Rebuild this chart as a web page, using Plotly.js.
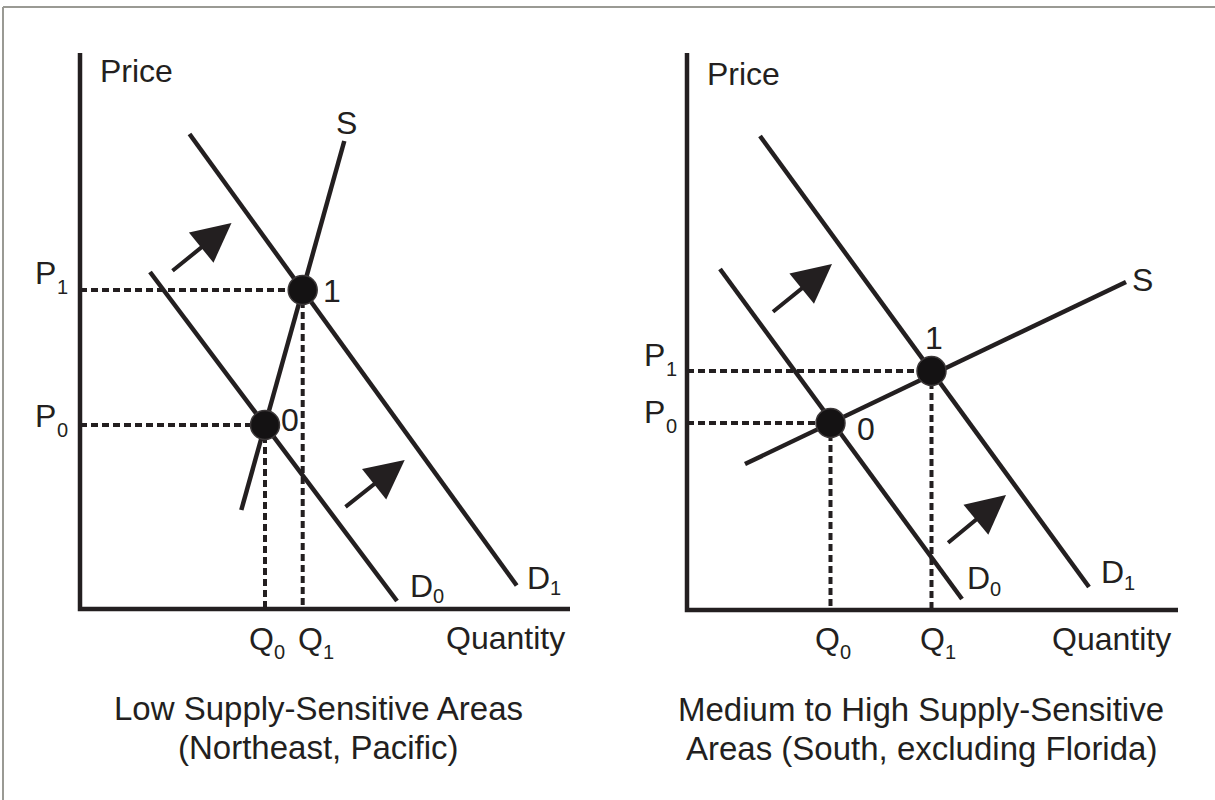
<!DOCTYPE html>
<html>
<head>
<meta charset="utf-8">
<script src="https://cdn.plot.ly/plotly-3.0.1.min.js"></script>
<style>
html,body{margin:0;padding:0;background:#fff;}
#chart{width:1215px;height:800px;}
</style>
</head>
<body>
<div id="chart"></div>
<script>
// ---------- Left panel: Low supply-sensitive areas (quantity, price units) ----------
const leftAxisQ = [0, 0, 490];
const leftAxisP = [556, 0, 0];
const leftSupplyQ = [161.3, 264.3];
const leftSupplyP = [99, 468];
const leftD0Q = [70, 317];
const leftD0P = [337, 8];
const leftD1Q = [109.5, 436.7];
const leftD1P = [475, 23.5];
const leftEqQ = [185, 222.7];   // points 0, 1
const leftEqP = [184, 319];
const leftArrowTailQ = [91, 264];
const leftArrowTailP = [337, 101];
const leftArrowTipQ = [151.5, 324.7];
const leftArrowTipP = [386, 149];

// ---------- Right panel: Medium to high supply-sensitive areas ----------
const rightAxisQ = [0, 0, 491];
const rightAxisP = [557, 0, 0];
const rightSupplyQ = [58, 439];
const rightSupplyP = [146, 328];
const rightD0Q = [33, 275];
const rightD0P = [341, 11];
const rightD1Q = [73, 402];
const rightD1P = [474, 23];
const rightEqQ = [143.5, 244.5];
const rightEqP = [187, 239];
const rightArrowTailQ = [84.5, 259.6];
const rightArrowTailP = [297, 66];
const rightArrowTipQ = [145, 319];
const rightArrowTipP = [346, 115];

// ---------- Text ----------
const pointLabels = ['0', '1'];
const subscripts = ['0', '1'];
const priceLetter = 'P';
const qtyLetter = 'Q';
const demandLetter = 'D';
const supplyLetter = 'S';
const axisLabels = ['Price', 'Quantity'];
const leftTitle = ['Low Supply-Sensitive Areas', '(Northeast, Pacific)'];
const rightTitle = ['Medium to High Supply-Sensitive', 'Areas (South, excluding Florida)'];

const INK = '#231f20';
const FONT = 'Liberation Sans, Arial, Helvetica, sans-serif';
const LABEL_SIZE = 32;
const SUB_SIZE = 20;
const TITLE_SIZE = 33;
const LETTER_W = {P: 21.5, Q: 24.5, D: 22.5};

function line(q, p, ax, extra) {
  return Object.assign({
    x: q, y: p, xaxis: ax[0], yaxis: ax[1], mode: 'lines', type: 'scatter',
    hoverinfo: 'skip', showlegend: false,
    line: {color: INK, width: 4.5}
  }, extra || {});
}
function dotted(q, p, ax) {
  return line(q, p, ax, {line: {color: INK, width: 4, dash: '7px,4px'}});
}

function panel(ax, d) {
  const tr = [];
  for (let i = 0; i < 2; i++) {
    tr.push(dotted([0, d.eqQ[i]], [d.eqP[i], d.eqP[i]], ax));
    tr.push(dotted([d.eqQ[i], d.eqQ[i]], [d.eqP[i], 0], ax));
  }
  tr.push(line(d.axisQ, d.axisP, ax));
  tr.push(line(d.d0Q, d.d0P, ax));
  tr.push(line(d.d1Q, d.d1P, ax));
  tr.push(line(d.sQ, d.sP, ax));
  tr.push({
    x: d.eqQ, y: d.eqP, xaxis: ax[0], yaxis: ax[1], type: 'scatter', mode: 'markers',
    hoverinfo: 'skip', showlegend: false,
    marker: {size: 29, color: '#141213', line: {color: '#3b3738', width: 1.5}}
  });
  return tr;
}

const leftData = {axisQ: leftAxisQ, axisP: leftAxisP, sQ: leftSupplyQ, sP: leftSupplyP,
  d0Q: leftD0Q, d0P: leftD0P, d1Q: leftD1Q, d1P: leftD1P, eqQ: leftEqQ, eqP: leftEqP};
const rightData = {axisQ: rightAxisQ, axisP: rightAxisP, sQ: rightSupplyQ, sP: rightSupplyP,
  d0Q: rightD0Q, d0P: rightD0P, d1Q: rightD1Q, d1P: rightD1P, eqQ: rightEqQ, eqP: rightEqP};

const traces = panel(['x', 'y'], leftData).concat(panel(['x2', 'y2'], rightData));

function txt(xr, yr, x, y, text, size, xanchor, yanchor) {
  return {xref: xr, yref: yr, x: x, y: y, text: text, showarrow: false,
    xanchor: xanchor || 'center', yanchor: yanchor || 'middle',
    font: {family: FONT, size: size || LABEL_SIZE, color: INK}};
}
// a letter with a separate, smaller, lowered subscript
function subLabel(list, xr, yr, left, y, letter, sub, subDrop) {
  list.push(txt(xr, yr, left, y, letter, LABEL_SIZE, 'left'));
  list.push(txt(xr, yr, left + LETTER_W[letter], y - subDrop, sub, SUB_SIZE, 'left'));
}
function arrow(xr, yr, tailQ, tailP, tipQ, tipP) {
  return {xref: xr, yref: yr, axref: xr, ayref: yr, x: tipQ, y: tipP, ax: tailQ, ay: tailP,
    text: '', showarrow: true, arrowhead: 2, arrowsize: 1.95, arrowwidth: 4, arrowcolor: INK,
    standoff: 0, startstandoff: 0};
}

const ann = [];
// left labels
ann.push(txt('x', 'y', 18, 538, axisLabels[0], LABEL_SIZE, 'left'));
ann.push(txt('x', 'y', 364, -29, axisLabels[1], LABEL_SIZE, 'left'));
ann.push(txt('x', 'y', 266, 486, supplyLetter, LABEL_SIZE));
ann.push(txt('x', 'y', 210, 189, pointLabels[0], LABEL_SIZE));
ann.push(txt('x', 'y', 251.5, 318, pointLabels[1], LABEL_SIZE));
subLabel(ann, 'x', 'y', -47, 193, priceLetter, subscripts[0], 14);
subLabel(ann, 'x', 'y', -47, 336, priceLetter, subscripts[1], 14);
subLabel(ann, 'x', 'y', 167, -30, qtyLetter, subscripts[0], 13);
subLabel(ann, 'x', 'y', 216, -30, qtyLetter, subscripts[1], 13);
subLabel(ann, 'x', 'y', 328, 23, demandLetter, subscripts[0], 10);
subLabel(ann, 'x', 'y', 445, 31, demandLetter, subscripts[1], 10);
ann.push(txt('x', 'y', 238, -99, leftTitle[0], TITLE_SIZE));
ann.push(txt('x', 'y', 238, -138, leftTitle[1], TITLE_SIZE));
for (let i = 0; i < 2; i++) {
  ann.push(arrow('x', 'y', leftArrowTailQ[i], leftArrowTailP[i], leftArrowTipQ[i], leftArrowTipP[i]));
}
// right labels
ann.push(txt('x2', 'y2', 18, 536, axisLabels[0], LABEL_SIZE, 'left'));
ann.push(txt('x2', 'y2', 362.5, -29, axisLabels[1], LABEL_SIZE, 'left'));
ann.push(txt('x2', 'y2', 455, 330, supplyLetter, LABEL_SIZE));
ann.push(txt('x2', 'y2', 179, 181, pointLabels[0], LABEL_SIZE));
ann.push(txt('x2', 'y2', 247, 272, pointLabels[1], LABEL_SIZE));
subLabel(ann, 'x2', 'y2', -45, 198, priceLetter, subscripts[0], 14);
subLabel(ann, 'x2', 'y2', -45, 255, priceLetter, subscripts[1], 14);
subLabel(ann, 'x2', 'y2', 126, -29, qtyLetter, subscripts[0], 13);
subLabel(ann, 'x2', 'y2', 231, -29, qtyLetter, subscripts[1], 13);
subLabel(ann, 'x2', 'y2', 278, 32, demandLetter, subscripts[0], 11);
subLabel(ann, 'x2', 'y2', 412, 38, demandLetter, subscripts[1], 11);
ann.push(txt('x2', 'y2', 234, -99, rightTitle[0], TITLE_SIZE));
ann.push(txt('x2', 'y2', 234, -138, rightTitle[1], TITLE_SIZE));
for (let i = 0; i < 2; i++) {
  ann.push(arrow('x2', 'y2', rightArrowTailQ[i], rightArrowTailP[i], rightArrowTipQ[i], rightArrowTipP[i]));
}

const hidden = {visible: false, fixedrange: true, showgrid: false, zeroline: false};
const layout = {
  width: 1215, height: 800,
  margin: {l: 0, r: 0, t: 0, b: 0, pad: 0},
  paper_bgcolor: '#ffffff', plot_bgcolor: 'rgba(0,0,0,0)',
  showlegend: false,
  font: {family: FONT, size: LABEL_SIZE, color: INK},
  xaxis: Object.assign({}, hidden, {domain: [0, 605 / 1215], range: [-80, 525]}),
  yaxis: Object.assign({}, hidden, {domain: [0, 1], range: [-191, 609]}),
  xaxis2: Object.assign({}, hidden, {domain: [605 / 1215, 1], range: [-82, 528]}),
  yaxis2: Object.assign({}, hidden, {domain: [0, 1], range: [-190, 610]}),
  annotations: ann,
  shapes: [
    {type: 'line', xref: 'paper', yref: 'paper', x0: 3 / 1215, x1: 1, y0: 1 - 7 / 800, y1: 1 - 7 / 800,
      line: {color: '#9a9a94', width: 2}},
    {type: 'line', xref: 'paper', yref: 'paper', x0: 3 / 1215, x1: 3 / 1215, y0: 0, y1: 1 - 7 / 800,
      line: {color: '#9a9a94', width: 2}}
  ]
};

Plotly.newPlot('chart', traces, layout, {displayModeBar: false, responsive: false});
</script>
</body>
</html>
